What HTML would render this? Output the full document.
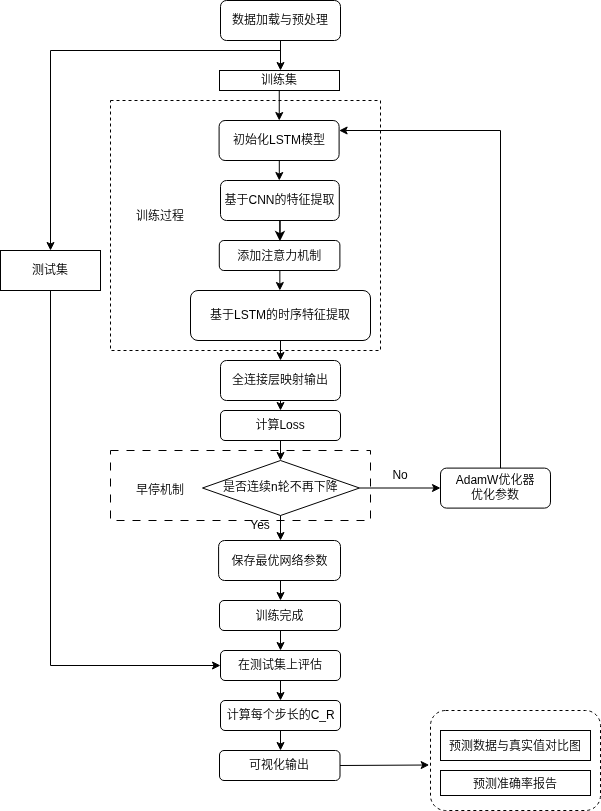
<!DOCTYPE html>
<html lang="zh-CN">
<head>
<meta charset="utf-8">
<title>LSTM 训练流程图</title>
<style>
html,body{margin:0;padding:0;background:#fff;}
body{width:601px;height:811px;overflow:hidden;}
svg{display:block;will-change:transform;}
svg text{font-family:"Liberation Sans", "Noto Sans CJK SC", sans-serif;font-weight:350;fill:#000;}
</style>
</head>
<body>
<svg width="601" height="811" viewBox="-0.5 -0.5 601 811">
<!-- dashed containers -->
<rect x="110" y="100" width="270" height="250" fill="none" stroke="#000" stroke-dasharray="3 3"/>
<rect x="110" y="450" width="260" height="70" fill="none" stroke="#000" stroke-dasharray="8 8"/>
<rect x="430" y="710" width="170" height="100" rx="15" ry="15" fill="#fff" stroke="#000" stroke-dasharray="3 3"/>
<!-- process boxes -->
<rect x="220" y="0" width="120" height="40" rx="6" ry="6" fill="#fff" stroke="#000"/>
<rect x="219" y="70" width="120" height="20" fill="#fff" stroke="#000"/>
<rect x="218.6" y="120" width="120" height="40" rx="6" ry="6" fill="#fff" stroke="#000"/>
<rect x="220" y="180" width="118.8" height="40" rx="6" ry="6" fill="#fff" stroke="#000"/>
<rect x="218.8" y="240" width="120.6" height="30" rx="4.5" ry="4.5" fill="#fff" stroke="#000"/>
<rect x="190" y="290" width="180" height="50" rx="7.5" ry="7.5" fill="#fff" stroke="#000"/>
<rect x="220" y="360" width="120" height="40" rx="6" ry="6" fill="#fff" stroke="#000"/>
<rect x="220" y="410" width="120" height="30" rx="4.5" ry="4.5" fill="#fff" stroke="#000"/>
<path d="M 280 460 L 359 487.5 L 280 515 L 202 487.5 Z" fill="#fff" stroke="#000" stroke-miterlimit="10"/>
<rect x="440" y="467.6" width="110" height="40" rx="6" ry="6" fill="#fff" stroke="#000"/>
<rect x="218.1" y="540" width="121.9" height="40" rx="6" ry="6" fill="#fff" stroke="#000"/>
<rect x="219" y="600" width="121" height="30" rx="4.5" ry="4.5" fill="#fff" stroke="#000"/>
<rect x="220" y="650" width="120" height="30" rx="4.5" ry="4.5" fill="#fff" stroke="#000"/>
<rect x="220" y="700" width="120" height="30" rx="4.5" ry="4.5" fill="#fff" stroke="#000"/>
<rect x="219" y="750" width="120.5" height="30" rx="4.5" ry="4.5" fill="#fff" stroke="#000"/>
<rect x="0" y="250" width="100" height="40" fill="#fff" stroke="#000"/>
<rect x="440" y="730" width="150" height="30" fill="#fff" stroke="#000"/>
<rect x="440" y="770" width="150" height="25" fill="#fff" stroke="#000"/>
<!-- connectors -->
<path d="M 280 40 L 280 63.63" fill="none" stroke="#000" stroke-miterlimit="10"/>
<path d="M 280 68.88 L 276.5 61.88 L 280 63.63 L 283.5 61.88 Z" fill="#000" stroke="#000" stroke-miterlimit="10"/>
<path d="M 278.75 90 L 278.75 113.63" fill="none" stroke="#000" stroke-miterlimit="10"/>
<path d="M 278.75 118.88 L 275.25 111.88 L 278.75 113.63 L 282.25 111.88 Z" fill="#000" stroke="#000" stroke-miterlimit="10"/>
<path d="M 278.8 160 L 278.8 173.63" fill="none" stroke="#000" stroke-miterlimit="10"/>
<path d="M 278.8 178.88 L 275.3 171.88 L 278.8 173.63 L 282.3 171.88 Z" fill="#000" stroke="#000" stroke-miterlimit="10"/>
<path d="M 279.45 220 L 279.45 233.63" fill="none" stroke="#000" stroke-width="1.6" stroke-miterlimit="10"/>
<path d="M 279.45 238.88 L 275.95 231.88 L 279.45 233.63 L 282.95 231.88 Z" fill="#000" stroke="#000" stroke-width="1.6" stroke-miterlimit="10"/>
<path d="M 279.35 270 L 279.35 283.63" fill="none" stroke="#000" stroke-miterlimit="10"/>
<path d="M 279.35 288.88 L 275.85 281.88 L 279.35 283.63 L 282.85 281.88 Z" fill="#000" stroke="#000" stroke-miterlimit="10"/>
<path d="M 280 340 L 280 353.63" fill="none" stroke="#000" stroke-miterlimit="10"/>
<path d="M 280 358.88 L 276.5 351.88 L 280 353.63 L 283.5 351.88 Z" fill="#000" stroke="#000" stroke-miterlimit="10"/>
<path d="M 280 400 L 280 403.63" fill="none" stroke="#000" stroke-miterlimit="10"/>
<path d="M 280 408.88 L 276.5 401.88 L 280 403.63 L 283.5 401.88 Z" fill="#000" stroke="#000" stroke-miterlimit="10"/>
<path d="M 280 440 L 280 453.63" fill="none" stroke="#000" stroke-miterlimit="10"/>
<path d="M 280 458.88 L 276.5 451.88 L 280 453.63 L 283.5 451.88 Z" fill="#000" stroke="#000" stroke-miterlimit="10"/>
<path d="M 280 515 L 280 533.63" fill="none" stroke="#000" stroke-miterlimit="10"/>
<path d="M 280 538.88 L 276.5 531.88 L 280 533.63 L 283.5 531.88 Z" fill="#000" stroke="#000" stroke-miterlimit="10"/>
<path d="M 280 580 L 280 593.63" fill="none" stroke="#000" stroke-miterlimit="10"/>
<path d="M 280 598.88 L 276.5 591.88 L 280 593.63 L 283.5 591.88 Z" fill="#000" stroke="#000" stroke-miterlimit="10"/>
<path d="M 280 630 L 280 643.63" fill="none" stroke="#000" stroke-miterlimit="10"/>
<path d="M 280 648.88 L 276.5 641.88 L 280 643.63 L 283.5 641.88 Z" fill="#000" stroke="#000" stroke-miterlimit="10"/>
<path d="M 280 680 L 280 693.63" fill="none" stroke="#000" stroke-miterlimit="10"/>
<path d="M 280 698.88 L 276.5 691.88 L 280 693.63 L 283.5 691.88 Z" fill="#000" stroke="#000" stroke-miterlimit="10"/>
<path d="M 280 730 L 280 743.63" fill="none" stroke="#000" stroke-miterlimit="10"/>
<path d="M 280 748.88 L 276.5 741.88 L 280 743.63 L 283.5 741.88 Z" fill="#000" stroke="#000" stroke-miterlimit="10"/>
<path d="M 359 487.5 L 433.63 487.5" fill="none" stroke="#000" stroke-miterlimit="10"/>
<path d="M 438.88 487.5 L 431.88 491 L 433.63 487.5 L 431.88 484 Z" fill="#000" stroke="#000" stroke-miterlimit="10"/>
<path d="M 500 467.6 L 500 130 L 344.97 130" fill="none" stroke="#000" stroke-miterlimit="10"/>
<path d="M 339.72 130 L 346.72 126.5 L 344.97 130 L 346.72 133.5 Z" fill="#000" stroke="#000" stroke-miterlimit="10"/>
<path d="M 280 50 L 50 50 L 50 243.63" fill="none" stroke="#000" stroke-miterlimit="10"/>
<path d="M 50 248.88 L 46.5 241.88 L 50 243.63 L 53.5 241.88 Z" fill="#000" stroke="#000" stroke-miterlimit="10"/>
<path d="M 50 290 L 50 665 L 213.63 665" fill="none" stroke="#000" stroke-miterlimit="10"/>
<path d="M 218.88 665 L 211.88 668.5 L 213.63 665 L 211.88 661.5 Z" fill="#000" stroke="#000" stroke-miterlimit="10"/>
<path d="M 339.5 765 L 422.33 764.54" fill="none" stroke="#000" stroke-miterlimit="10"/>
<path d="M 427.58 764.51 L 420.6 768.05 L 422.33 764.54 L 420.56 761.05 Z" fill="#000" stroke="#000" stroke-miterlimit="10"/>
<!-- labels -->
<text x="279.6" y="23.4" text-anchor="middle" font-size="12">数据加载与预处理</text>
<text x="278.6" y="83.9" text-anchor="middle" font-size="12">训练集</text>
<text x="278.5" y="143.8" text-anchor="middle" font-size="12">初始化LSTM模型</text>
<text x="279" y="203.75" text-anchor="middle" font-size="12">基于CNN的特征提取</text>
<text x="278.8" y="259.1" text-anchor="middle" font-size="12">添加注意力机制</text>
<text x="279.6" y="318.7" text-anchor="middle" font-size="12">基于LSTM的时序特征提取</text>
<text x="279.6" y="383.4" text-anchor="middle" font-size="12">全连接层映射输出</text>
<text x="279.6" y="428.7" text-anchor="middle" font-size="12">计算Loss</text>
<text x="279.9" y="490.3" text-anchor="middle" font-size="12">是否连续n轮不再下降</text>
<text x="494.6" y="483.4" text-anchor="middle" font-size="12">AdamW优化器</text>
<text x="494.6" y="498.95" text-anchor="middle" font-size="12">优化参数</text>
<text x="279" y="564.1" text-anchor="middle" font-size="12">保存最优网络参数</text>
<text x="279" y="619.1" text-anchor="middle" font-size="12">训练完成</text>
<text x="279.6" y="668.8" text-anchor="middle" font-size="12">在测试集上评估</text>
<text x="280.2" y="718.8" text-anchor="middle" font-size="12">计算每个步长的C_R</text>
<text x="278.6" y="768.8" text-anchor="middle" font-size="12">可视化输出</text>
<text x="49.6" y="273.8" text-anchor="middle" font-size="12">测试集</text>
<text x="514.6" y="749" text-anchor="middle" font-size="12">预测数据与真实值对比图</text>
<text x="514.6" y="787" text-anchor="middle" font-size="12">预测准确率报告</text>
<text x="159.6" y="219.2" text-anchor="middle" font-size="12">训练过程</text>
<text x="159.6" y="493.8" text-anchor="middle" font-size="12">早停机制</text>
<text x="259.6" y="528.9" text-anchor="middle" font-size="12">Yes</text>
<text x="399.6" y="478.3" text-anchor="middle" font-size="12">No</text>
</svg>
</body>
</html>
